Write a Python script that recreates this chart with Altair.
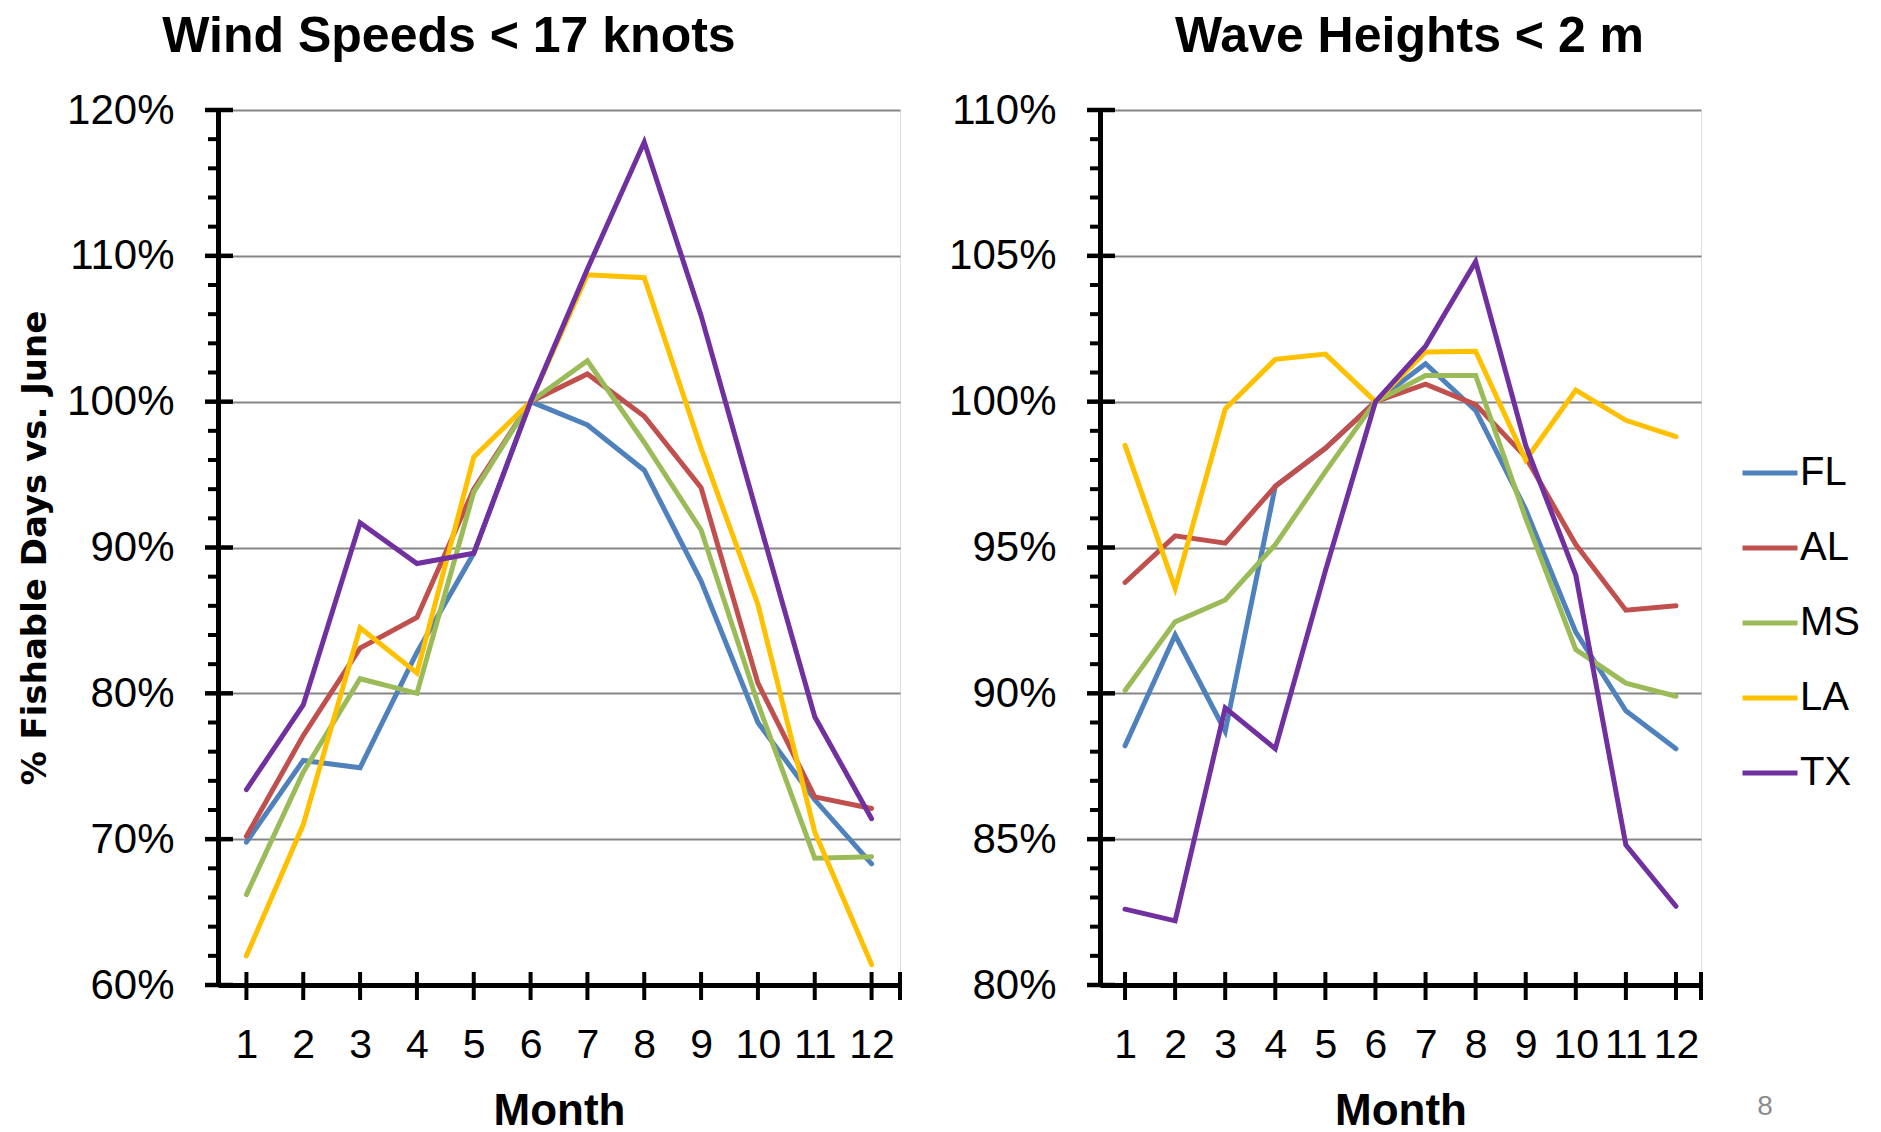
import altair as alt
import pandas as pd

months = [1, 2, 3, 4, 5, 6, 7, 8, 9, 10, 11, 12]
states = ["FL", "AL", "MS", "LA", "TX"]
colors = ["#4F81BD", "#C0504D", "#9BBB59", "#FFC000", "#7030A0"]

# Wind Speeds < 17 knots (% fishable days vs. June)
wind_fl = [69.8, 75.4, 74.9, 82.8, 89.6, 100.0, 98.4, 95.3, 87.7, 78.0, 72.7, 68.3]
wind_al = [70.2, 77.1, 83.1, 85.2, 94.0, 100.0, 101.9, 99.0, 94.1, 80.7, 72.9, 72.1]
wind_ms = [66.2, 74.6, 81.0, 80.0, 93.8, 100.0, 102.8, 97.2, 91.2, 79.3, 68.7, 68.8]
wind_la = [62.0, 71.0, 84.5, 81.4, 96.2, 100.0, 108.7, 108.5, 96.8, 86.1, 70.5, 61.4]
wind_tx = [73.4, 79.2, 91.7, 88.9, 89.6, 100.0, 109.1, 117.8, 105.9, 92.1, 78.4, 71.4]

# Wave Heights < 2 m (% fishable days vs. June)
wave_fl = [88.2, 92.0, 88.7, 97.1, 98.4, 100.0, 101.3, 99.7, 96.3, 92.1, 89.4, 88.1]
wave_al = [93.8, 95.4, 95.15, 97.1, 98.4, 100.0, 100.6, 99.9, 98.1, 95.1, 92.85, 93.0]
wave_ms = [90.1, 92.45, 93.2, 95.1, 97.6, 100.0, 100.9, 100.9, 96.0, 91.5, 90.35, 89.9]
wave_la = [98.5, 93.6, 99.75, 101.45, 101.63, 100.0, 101.7, 101.73, 98.0, 100.4, 99.36, 98.8]
wave_tx = [82.6, 82.2, 89.5, 88.1, 94.2, 100.0, 101.9, 104.8, 98.5, 94.05, 84.8, 82.7]

wind_major = [60, 70, 80, 90, 100, 110, 120]
wind_minor = [62, 64, 66, 68, 72, 74, 76, 78, 82, 84, 86, 88, 92, 94, 96, 98,
              102, 104, 106, 108, 112, 114, 116, 118]
wave_major = [80, 85, 90, 95, 100, 105, 110]
wave_minor = [81, 82, 83, 84, 86, 87, 88, 89, 91, 92, 93, 94, 96, 97, 98, 99,
              101, 102, 103, 104, 106, 107, 108, 109]
x_tick_positions = [1, 2, 3, 4, 5, 6, 7, 8, 9, 10, 11, 12, 12.5]

FONT = "Liberation Sans"
H = 875


def panel(title, dx, series, major, minor, domain, width, ytitle, page=None):
    df = pd.DataFrame(
        [{"Month": m, "State": s, "Value": v}
         for s, vals in zip(states, series) for m, v in zip(months, vals)]
    )
    xscale = alt.Scale(domain=[0.5, 12.5], nice=False, zero=False)
    yscale = alt.Scale(domain=domain, nice=False, zero=False)
    yaxis_kwargs = dict(
        values=major, labelExpr="datum.value + '%'", grid=True,
        gridColor="#868686", gridWidth=2, ticks=False, tickSize=0,
        domainColor="black", domainWidth=5, labelFont=FONT, labelFontSize=42,
        labelColor="black", labelPadding=44,
    )
    if ytitle:
        yaxis_kwargs.update(
            title=ytitle, titleFont="DejaVu Sans", titleFontSize=34,
            titleFontWeight="bold", titleColor="black", titleAngle=270,
            titleX=-183, titleY=H / 2, titleBaseline="middle", titleAlign="center",
        )
    else:
        yaxis_kwargs.update(title="")
    xaxis = alt.Axis(
        values=months, title="Month", grid=False, ticks=False, tickSize=0,
        domainColor="black", domainWidth=5, labelFont=FONT, labelFontSize=41,
        labelColor="black", labelPadding=40, labelOverlap=False, labelFlush=False,
        titleFont=FONT, titleFontSize=44, titleFontWeight="bold", titleColor="black",
        titlePadding=24,
    )
    yaxis = alt.Axis(**yaxis_kwargs)
    xenc = alt.X("Month:Q", scale=xscale, axis=xaxis)
    yenc = alt.Y("Value:Q", scale=yscale, axis=yaxis)

    lines = alt.Chart(df).mark_line(strokeWidth=5, strokeCap="round").encode(
        x=xenc,
        y=yenc,
        color=alt.Color(
            "State:N", scale=alt.Scale(domain=states, range=colors),
            sort=states,
            legend=alt.Legend(
                title=None, orient="none", legendX=1522, legendY=333,
                symbolType="stroke", symbolSize=3025, symbolStrokeWidth=5,
                labelFont=FONT, labelFontSize=40, labelColor="black",
                labelOffset=0, rowPadding=25, padding=0,
            ),
        ),
    )
    maj = alt.Chart(pd.DataFrame({"Value": major})).mark_rule(
        color="black", strokeWidth=4.5
    ).encode(y=yenc, x=alt.value(-13), x2=alt.value(15))
    mnr = alt.Chart(pd.DataFrame({"Value": minor})).mark_rule(
        color="black", strokeWidth=4
    ).encode(y=yenc, x=alt.value(-10), x2=alt.value(0))
    xt = alt.Chart(pd.DataFrame({"Month": x_tick_positions})).mark_rule(
        color="black", strokeWidth=4
    ).encode(x=xenc, y=alt.value(H - 13), y2=alt.value(H + 15))
    layers = [lines, maj, mnr, xt]
    if page is not None:
        pg = alt.Chart(pd.DataFrame({"t": [page]})).mark_text(
            font=FONT, fontSize=28, color="#8C8C8C", align="center", baseline="middle"
        ).encode(text="t:N", x=alt.value(665), y=alt.value(997))
        layers.append(pg)
    return alt.layer(*layers).properties(
        width=width, height=H,
        title=alt.TitleParams(
            title, font=FONT, fontSize=50, fontWeight="bold", color="black",
            anchor="middle", dx=dx, offset=27,
        ),
    )


left = panel("Wind Speeds < 17 knots", -110,
             [wind_fl, wind_al, wind_ms, wind_la, wind_tx],
             wind_major, wind_minor, [60, 120], 682, "% Fishable Days vs. June")
right = panel("Wave Heights < 2 m", 9,
              [wave_fl, wave_al, wave_ms, wave_la, wave_tx],
              wave_major, wave_minor, [80, 110], 601, None, page="8")

chart = alt.hconcat(left, right, spacing=200, bounds="flush").resolve_scale(
    x="independent", y="independent", color="shared"
).properties(
    padding={"left": 9, "top": 3, "right": 0, "bottom": 0}
).configure_view(stroke="transparent", strokeWidth=0).configure(background="white")

chart.save("out.html", embed_options={"renderer": "svg", "actions": False})
